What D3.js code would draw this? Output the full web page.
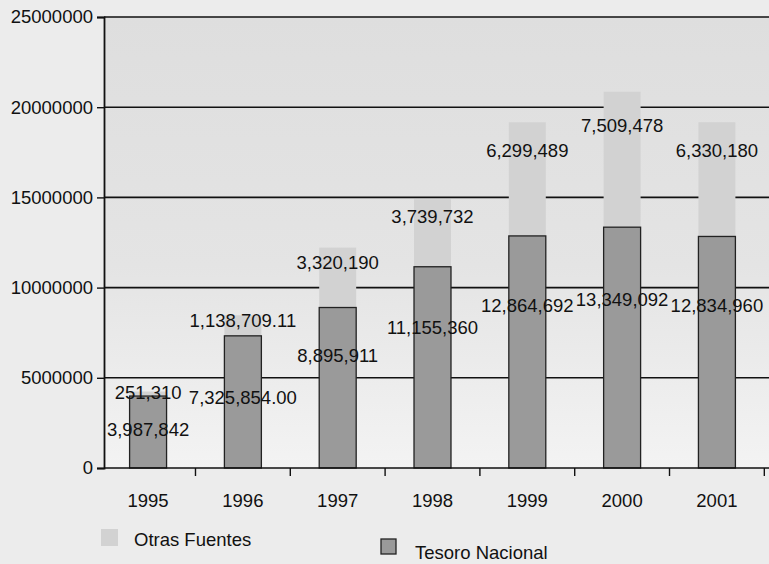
<!DOCTYPE html>
<html>
<head>
<meta charset="utf-8">
<script src="https://cdn.jsdelivr.net/npm/d3@7"></script>
<style>
  html, body { margin: 0; padding: 0; background: #ececec; }
  svg { display: block; font-family: "Liberation Sans", Arial, Helvetica, sans-serif; }
</style>
</head>
<body>
<svg id="chart" width="769" height="564"></svg>
<script>
// ---- data ----
const years = ["1995", "1996", "1997", "1998", "1999", "2000", "2001"];
const tesoroNacional = [3987842, 7325854.00, 8895911, 11155360, 12864692, 13349092, 12834960];
const otrasFuentes = [251310, 1138709.11, 3320190, 3739732, 6299489, 7509478, 6330180];
const tesoroLabels = ["3,987,842", "7,325,854.00", "8,895,911", "11,155,360", "12,864,692", "13,349,092", "12,834,960"];
const otrasLabels = ["251,310", "1,138,709.11", "3,320,190", "3,739,732", "6,299,489", "7,509,478", "6,330,180"];
const yTicks = [0, 5000000, 10000000, 15000000, 20000000, 25000000];
const seriesNames = ["Otras Fuentes", "Tesoro Nacional"];

// ---- layout ----
const svg = d3.select("#chart");
const W = 769, H = 564;
const mLeft = 104, mRight = 769, mTop = 17, mBottom = 468;

const x = d3.scaleBand().domain(years).range([mLeft, 761]).paddingInner(0.61).paddingOuter(0.27);
const y = d3.scaleLinear().domain([0, 25000000]).range([mBottom, mTop]);

const defs = svg.append("defs");
const grad = defs.append("linearGradient").attr("id", "plotbg").attr("x1", 0).attr("y1", 0).attr("x2", 0).attr("y2", 1);
grad.append("stop").attr("offset", "0%").attr("stop-color", "#dedede");
grad.append("stop").attr("offset", "55%").attr("stop-color", "#e4e4e4");
grad.append("stop").attr("offset", "100%").attr("stop-color", "#f3f3f3");

svg.append("rect").attr("width", W).attr("height", H).attr("fill", "#ececec");
svg.append("rect").attr("x", mLeft).attr("y", mTop).attr("width", mRight - mLeft).attr("height", mBottom - mTop).attr("fill", "url(#plotbg)");

// gridlines
svg.append("g").selectAll("line").data(yTicks.filter(d => d > 0)).join("line")
  .attr("x1", mLeft).attr("x2", mRight)
  .attr("y1", d => y(d)).attr("y2", d => y(d))
  .attr("stroke", "#111").attr("stroke-width", 1.6);

const paleColor = "#d2d2d2", darkColor = "#9a9a9a";

// stacked bars
const rows = years.map((yr, i) => ({ yr, t: tesoroNacional[i], o: otrasFuentes[i], i }));
svg.append("g").selectAll("rect").data(rows).join("rect")
  .attr("x", d => x(d.yr)).attr("width", x.bandwidth())
  .attr("y", d => y(d.t + d.o)).attr("height", d => y(d.t) - y(d.t + d.o))
  .attr("fill", paleColor);
svg.append("g").selectAll("rect").data(rows).join("rect")
  .attr("x", d => x(d.yr)).attr("width", x.bandwidth())
  .attr("y", d => y(d.t)).attr("height", d => y(0) - y(d.t))
  .attr("fill", darkColor).attr("stroke", "#222").attr("stroke-width", 1.3);

// y axis
const yAxis = d3.axisLeft(y).tickValues(yTicks).tickFormat(d3.format("d")).tickSize(7).tickPadding(4);
const gy = svg.append("g").attr("transform", `translate(${mLeft},0)`).call(yAxis);
gy.select(".domain").attr("stroke", "#111").attr("stroke-width", 1.8);
gy.selectAll(".tick line").attr("stroke", "#111").attr("stroke-width", 1.4);
gy.selectAll(".tick text").attr("font-size", 18.5).attr("fill", "#111").attr("font-family", "Liberation Sans, Arial, sans-serif");

// x axis
const gx = svg.append("g").attr("transform", `translate(0,${mBottom})`);
gx.append("line").attr("x1", mLeft).attr("x2", mRight).attr("stroke", "#111").attr("stroke-width", 1.6);
const step = x.step();
gx.selectAll("line.tk").data(years).join("line").attr("class", "tk")
  .attr("x1", d => x(d) + x.bandwidth() + step * x.paddingInner() / 2)
  .attr("x2", d => x(d) + x.bandwidth() + step * x.paddingInner() / 2)
  .attr("y1", 0).attr("y2", 8).attr("stroke", "#111").attr("stroke-width", 1.4);
gx.selectAll("text").data(years).join("text")
  .attr("x", d => x(d) + x.bandwidth() / 2).attr("y", 39)
  .attr("text-anchor", "middle").attr("font-size", 18.5).attr("fill", "#111")
  .text(d => d);

// value labels
const lab = svg.append("g").attr("font-size", 18.5).attr("fill", "#111").attr("text-anchor", "middle");
lab.selectAll("text.o").data(rows).join("text").attr("class", "o")
  .attr("x", d => x(d.yr) + x.bandwidth() / 2)
  .attr("y", d => y(d.t + 0.75 * d.o))
  .attr("dy", "0.35em")
  .text(d => otrasLabels[d.i]);
lab.selectAll("text.t").data(rows).join("text").attr("class", "t")
  .attr("x", d => x(d.yr) + x.bandwidth() / 2)
  .attr("y", d => y(d.t * (d.t < 7500000 ? 0.53 : 0.7)))
  .attr("dy", "0.35em")
  .text(d => tesoroLabels[d.i]);

// legend
const leg = svg.append("g").attr("font-size", 18.5).attr("fill", "#111");
leg.append("rect").attr("x", 101).attr("y", 529).attr("width", 17).attr("height", 17).attr("fill", paleColor);
leg.append("text").attr("x", 134).attr("y", 546).text(seriesNames[0]);
leg.append("rect").attr("x", 381).attr("y", 539).attr("width", 15).attr("height", 15).attr("fill", darkColor).attr("stroke", "#222").attr("stroke-width", 1.3);
leg.append("text").attr("x", 415).attr("y", 559).text(seriesNames[1]);
</script>
</body>
</html>
